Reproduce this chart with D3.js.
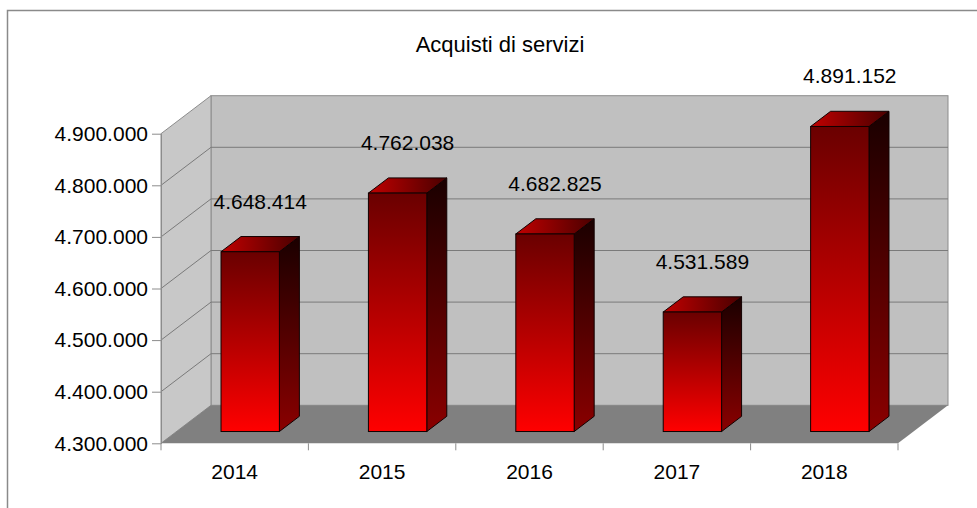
<!DOCTYPE html>
<html>
<head>
<meta charset="utf-8">
<script src="https://cdn.jsdelivr.net/npm/d3@7"></script>
<style>
  body { margin: 0; background: #fff; }
  svg { display: block; font-family: "Liberation Sans", Arial, sans-serif; }
</style>
</head>
<body>
<div id="chart"></div>
<script>
// data
const years = ["2014", "2015", "2016", "2017", "2018"];
const acquisti = [4648414, 4762038, 4682825, 4531589, 4891152];
const yTicks = [4300000, 4400000, 4500000, 4600000, 4700000, 4800000, 4900000];
const title = "Acquisti di servizi";

const WIDTH = 977, HEIGHT = 508;
// depth of the 3D box (back wall offset from front plane)
const DX = 50, DY = -38;
// bar front/back position inside the box depth
const BAR_T1 = 0.31, BAR_T2 = 0.71;

const it = d3.formatLocale({decimal: ",", thousands: ".", grouping: [3], currency: ["€", ""]});
const fmt = it.format(",.0f");

const svg = d3.select("#chart").append("svg").attr("width", WIDTH).attr("height", HEIGHT);
const defs = svg.append("defs");

function grad(id, x2, y2, stops) {
    const g = defs.append("linearGradient").attr("id", id)
        .attr("x1", 0).attr("y1", 0).attr("x2", x2).attr("y2", y2);
    stops.forEach(s => g.append("stop").attr("offset", s[0]).attr("stop-color", s[1]));
}
grad("gFront", 0, 1, [[0, "#6a0000"], [0.5, "#b40000"], [1, "#ff0000"]]);
grad("gSide", 0, 1, [[0, "#1a0000"], [1, "#8a0000"]]);
grad("gTop", 1, 0, [[0, "#c00000"], [1, "#4a0000"]]);

// outer frame
svg.append("rect").attr("x", 7.5).attr("y", 10.5).attr("width", WIDTH).attr("height", HEIGHT)
    .attr("fill", "none").attr("stroke", "#8a8a8a").attr("stroke-width", 1.5);

svg.append("text").attr("x", 500).attr("y", 52).attr("text-anchor", "middle")
    .attr("font-size", 22).attr("fill", "#000").text(title);

const x = d3.scaleBand().domain(years).range([161, 898]);
const y = d3.scaleLinear().domain([4300000, 4900000]).range([443.3, 133.7]);

const x0 = x.range()[0], x1 = x.range()[1];
const yTop = y(yTicks[yTicks.length - 1]), yBot = y(yTicks[0]);

const box = svg.append("g");
// back wall
box.append("rect").attr("x", x0 + DX).attr("y", yTop + DY).attr("width", x1 - x0).attr("height", yBot - yTop)
    .attr("fill", "#c0c0c0").attr("stroke", "#8c8c8c").attr("stroke-width", 1);
// side wall
box.append("path")
    .attr("d", `M${x0},${yTop}L${x0 + DX},${yTop + DY}L${x0 + DX},${yBot + DY}L${x0},${yBot}Z`)
    .attr("fill", "#c8c8c8").attr("stroke", "#8c8c8c").attr("stroke-width", 1);
// floor
box.append("path")
    .attr("d", `M${x0},${yBot}L${x0 + DX},${yBot + DY}L${x1 + DX},${yBot + DY}L${x1},${yBot}Z`)
    .attr("fill", "#808080");

// grid lines on side and back wall
yTicks.slice(1, -1).forEach(v => {
    box.append("path")
        .attr("d", `M${x0},${y(v)}L${x0 + DX},${y(v) + DY}L${x1 + DX},${y(v) + DY}`)
        .attr("fill", "none").attr("stroke", "#7a7a7a").attr("stroke-width", 1);
});

// y axis
const gy = svg.append("g").attr("transform", `translate(${x0},0)`)
    .call(d3.axisLeft(y).tickValues(yTicks).tickFormat(fmt).tickSize(9).tickSizeOuter(0).tickPadding(4));
gy.select(".domain").attr("stroke", "#8c8c8c");
gy.selectAll(".tick line").attr("stroke", "#8c8c8c");
gy.selectAll(".tick text").attr("font-size", 21).attr("fill", "#000").attr("font-family", "Liberation Sans, Arial, sans-serif");

// x axis: ticks on band boundaries, labels centred
const bounds = years.map(d => x(d)).concat([x1]);
svg.append("g").selectAll("line").data(bounds).join("line")
    .attr("x1", d => d).attr("x2", d => d).attr("y1", yBot).attr("y2", yBot + 7)
    .attr("stroke", "#8c8c8c");
svg.append("g").selectAll("text").data(years).join("text")
    .attr("x", d => x(d) + x.bandwidth() / 2).attr("y", 479)
    .attr("text-anchor", "middle").attr("font-size", 21).attr("fill", "#000").text(d => d);

// bars
const bw = x.bandwidth() * 0.396;
const fdx = DX * BAR_T1, fdy = DY * BAR_T1;
const ddx = DX * (BAR_T2 - BAR_T1), ddy = DY * (BAR_T2 - BAR_T1);
const data = years.map((d, i) => ({year: d, value: acquisti[i]}));

const bars = svg.append("g").selectAll("g").data(data).join("g");
bars.each(function(d) {
    const g = d3.select(this);
    const L = x(d.year) + x.bandwidth() / 2 - bw / 2 + fdx;
    const R = L + bw;
    const T = y(d.value) + fdy;
    const B = yBot + fdy;
    g.append("path").attr("d", `M${R},${T}L${R + ddx},${T + ddy}L${R + ddx},${B + ddy}L${R},${B}Z`)
        .attr("fill", "url(#gSide)").attr("stroke", "#120000").attr("stroke-width", 1).attr("stroke-linejoin", "round");
    g.append("path").attr("d", `M${L},${T}L${L + ddx},${T + ddy}L${R + ddx},${T + ddy}L${R},${T}Z`)
        .attr("fill", "url(#gTop)").attr("stroke", "#120000").attr("stroke-width", 1).attr("stroke-linejoin", "round");
    g.append("rect").attr("x", L).attr("y", T).attr("width", bw).attr("height", B - T)
        .attr("fill", "url(#gFront)").attr("stroke", "#120000").attr("stroke-width", 1);
    g.append("text").attr("x", (L + R) / 2 + 10).attr("y", T + ddy - 28)
        .attr("text-anchor", "middle").attr("font-size", 21).attr("fill", "#000").text(fmt(d.value));
});
</script>
</body>
</html>
